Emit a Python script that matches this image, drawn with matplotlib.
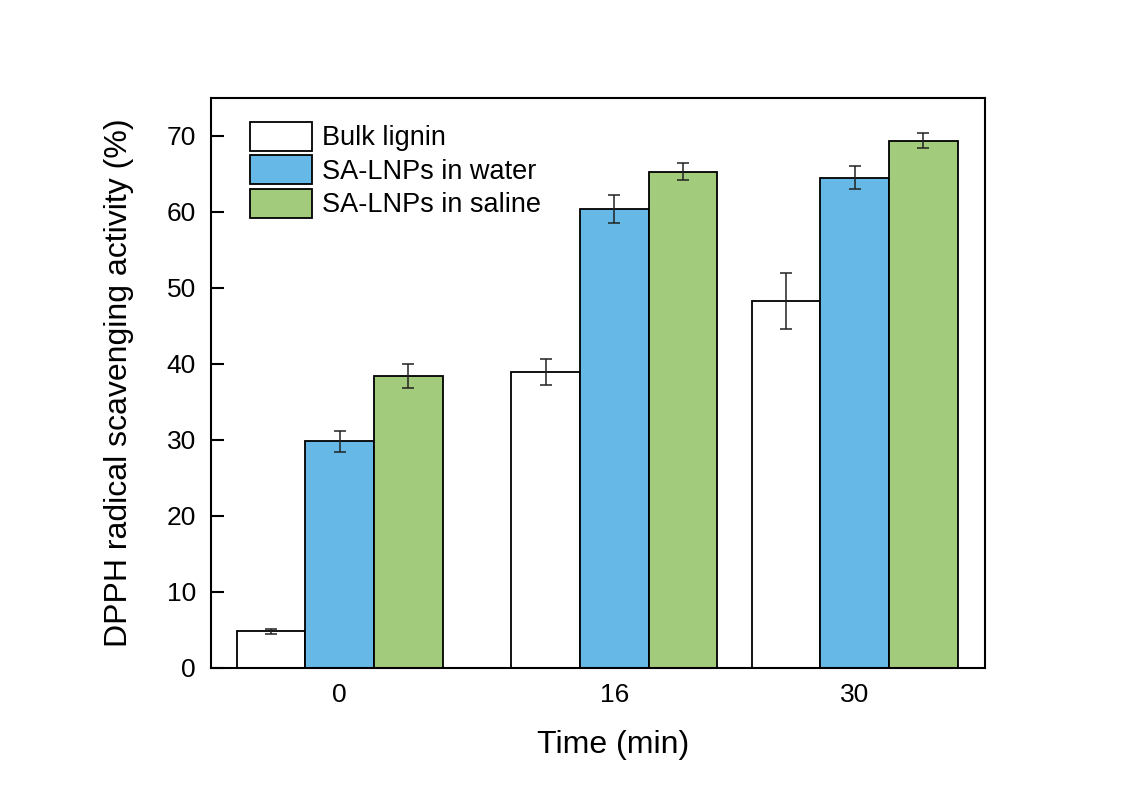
import numpy as np
import matplotlib.pyplot as plt

plt.rcParams['font.family'] = ['Liberation Sans', 'DejaVu Sans']

# Datos
tiempos = [0, 16, 30]
series = ["Bulk lignin", "SA-LNPs in water", "SA-LNPs in saline"]
bulk = [4.8, 38.9, 48.3]
bulk_err = [0.3, 1.7, 3.7]
agua = [29.8, 60.4, 64.5]
agua_err = [1.4, 1.8, 1.5]
salina = [38.4, 65.3, 69.4]
salina_err = [1.6, 1.1, 1.0]

colores = ["white", "#66B9E6", "#A2CB7B"]
ancho = 4

fig = plt.figure(figsize=(11.31, 7.89), dpi=100)
ax = fig.add_axes([0.1866, 0.1534, 0.6843, 0.7224])

x = np.array(tiempos, dtype=float)
datos = [(bulk, bulk_err), (agua, agua_err), (salina, salina_err)]
for i, (vals, errs) in enumerate(datos):
    ax.bar(x + (i - 1) * ancho, vals, width=ancho, color=colores[i],
           edgecolor="black", linewidth=1.3, label=series[i], zorder=2)
    ax.errorbar(x + (i - 1) * ancho, vals, yerr=errs, fmt="none",
                ecolor="#222222", elinewidth=1.1, capsize=4, capthick=1.1, zorder=3)

ax.set_xlim(-7.5, 37.6)
ax.set_ylim(0, 75)
ax.set_xticks(tiempos)
ax.set_xticklabels([str(t) for t in tiempos])
ax.set_yticks(np.arange(0, 80, 10))

ax.tick_params(axis="y", direction="in", length=9, width=1.5, labelsize=19, pad=11)
ax.tick_params(axis="x", length=0, labelsize=19, pad=11)
for s in ax.spines.values():
    s.set_linewidth(1.5)

ax.set_xlabel("Time (min)", fontsize=23)
ax.xaxis.set_label_coords(0.52, -0.108)
ax.set_ylabel("DPPH radical scavenging activity (%)", fontsize=23)
ax.yaxis.set_label_coords(-0.1, 0.5)

ax.legend(loc="upper left", bbox_to_anchor=(0.036, 0.977), frameon=False,
          fontsize=19.5, handlelength=2.3, handleheight=1.25,
          labelspacing=0.15, handletextpad=0.35, borderaxespad=0)

fig.savefig("out.png", dpi=100)
